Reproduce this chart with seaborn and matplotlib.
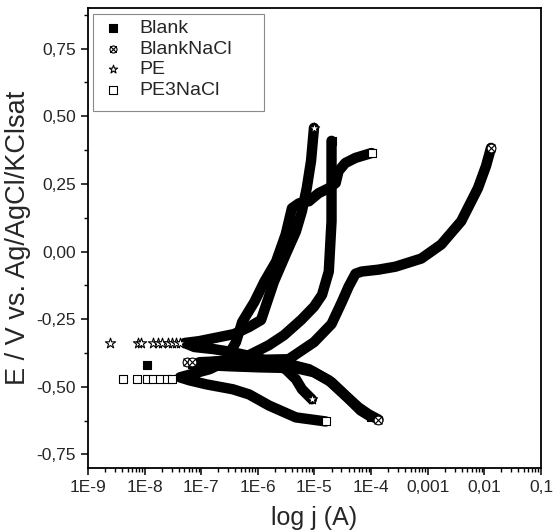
"""
Tafel polarisation curves (Blank / BlankNaCl / PE / PE3NaCl).
"""

import matplotlib

matplotlib.use("Agg")
import matplotlib.pyplot as plt
import seaborn as sns
from matplotlib.patches import Rectangle
from matplotlib.path import Path
from matplotlib.ticker import FixedFormatter, FixedLocator, LogLocator, MultipleLocator, NullFormatter

# --- data (j in A, E in V) ------------------------------------------------
# each branch path runs cathodic end -> corrosion potential -> anodic end
blank_j = [9.8e-5, 6.5e-5, 4.0e-5, 2.0e-5, 9.8e-6, 4.7e-6, 1.05e-6, 3.1e-7, 1.24e-7, 7.6e-8,
           3.1e-7, 7.0e-7, 1.57e-6, 2.9e-6, 5.8e-6, 9.8e-6, 1.36e-5, 1.79e-5, 2.0e-5, 2.0e-5, 2.0e-5]
blank_e = [-0.610, -0.587, -0.543, -0.483, -0.446, -0.431, -0.428, -0.424, -0.420, -0.416,
           -0.401, -0.383, -0.346, -0.309, -0.253, -0.204, -0.160, -0.074, 0.112, 0.260, 0.409]
blank_tip_j = [1.09e-8, 7.0e-8]
blank_tip_e = [-0.420, -0.416]

blanknacl_j = [1.35e-4, 9.1e-5, 6.0e-5, 3.5e-5, 1.79e-5, 8.0e-6, 3.5e-6, 7.0e-7, 1.7e-7, 9.3e-8,
               7.0e-7, 3.5e-6, 9.8e-6, 2.0e-5, 3.05e-5, 4.0e-5, 5.3e-5, 6.8e-5, 1.35e-4, 2.7e-4,
               7.7e-4, 1.73e-3, 3.9e-3, 7.7e-3, 1.07e-2, 1.31e-2]
blanknacl_e = [-0.621, -0.602, -0.576, -0.532, -0.476, -0.435, -0.416, -0.416, -0.413, -0.409,
               -0.401, -0.398, -0.335, -0.268, -0.186, -0.130, -0.082, -0.074, -0.067, -0.056,
               -0.026, 0.026, 0.112, 0.234, 0.316, 0.383]
blanknacl_tip_j = [5.5e-8, 7.0e-8]
blanknacl_tip_e = [-0.409, -0.409]

pe_j = [9.0e-6, 6.0e-6, 4.7e-6, 3.1e-6, 1.05e-6, 3.6e-7, 1.7e-7, 7.6e-8, 5.1e-8, 9.3e-8,
        2.1e-7, 3.8e-7, 7.0e-7, 1.14e-6, 1.46e-6, 1.92e-6, 3.1e-6, 4.7e-6, 6.0e-6, 7.3e-6,
        8.7e-6, 9.8e-6]
pe_e = [-0.546, -0.509, -0.472, -0.435, -0.394, -0.372, -0.361, -0.353, -0.338, -0.331,
        -0.316, -0.305, -0.279, -0.253, -0.186, -0.112, -0.011, 0.074, 0.149, 0.234,
        0.335, 0.457]
pe_tip_j = [2.4e-9, 7.6e-9, 8.8e-9, 1.39e-8, 1.7e-8, 2.07e-8, 2.55e-8, 3.1e-8, 3.6e-8, 4.3e-8]
pe_tip_e = [-0.338, -0.338, -0.338, -0.338, -0.338, -0.338, -0.338, -0.338, -0.338, -0.338]

pe3nacl_j = [1.58e-5, 9.0e-6, 4.7e-6, 1.57e-6, 7.0e-7, 3.6e-7, 1.24e-7, 6.2e-8, 4.2e-8, 7.6e-8,
             1.4e-7, 2.55e-7, 4.1e-7, 5.3e-7, 8.7e-7, 1.3e-6, 2.1e-6, 3.1e-6, 4.0e-6, 5.3e-6,
             8.0e-6, 1.19e-5, 1.79e-5, 2.37e-5, 2.66e-5, 3.5e-5, 5.3e-5, 1.02e-4]
pe3nacl_e = [-0.628, -0.621, -0.613, -0.569, -0.528, -0.509, -0.491, -0.476, -0.465, -0.450,
             -0.435, -0.409, -0.335, -0.260, -0.186, -0.112, -0.037, 0.063, 0.160, 0.178,
             0.186, 0.216, 0.234, 0.253, 0.297, 0.327, 0.346, 0.364]
pe3nacl_tip_j = [4.1e-9, 7.3e-9, 1.09e-8, 1.39e-8, 1.84e-8, 2.44e-8, 3.1e-8]
pe3nacl_tip_e = [-0.472, -0.472, -0.472, -0.472, -0.472, -0.472, -0.472]

x_ticks = [1e-9, 1e-8, 1e-7, 1e-6, 1e-5, 1e-4, 1e-3, 1e-2, 1e-1]
x_tick_labels = ["1E-9", "1E-8", "1E-7", "1E-6", "1E-5", "1E-4", "0,001", "0,01", "0,1"]
y_ticks = [-0.75, -0.50, -0.25, 0.00, 0.25, 0.50, 0.75]
y_tick_labels = ["-0,75", "-0,50", "-0,25", "0,00", "0,25", "0,50", "0,75"]


def crossed_circle() -> Path:
    return Path.make_compound_path(
        Path.unit_circle(),
        Path([(-0.9, -0.9), (0.9, 0.9)]),
        Path([(-0.9, 0.9), (0.9, -0.9)]),
    )


sns.set_style("ticks")
plt.rcParams["font.family"] = ["Liberation Sans", "DejaVu Sans"]

fig = plt.figure(figsize=(5.54, 5.32), dpi=100)
ax = fig.add_axes([0.1588, 0.1203, 0.8177, 0.8647])

curves = [
    ("Blank", blank_j, blank_e, blank_tip_j, blank_tip_e, "s", "black"),
    ("BlankNaCl", blanknacl_j, blanknacl_e, blanknacl_tip_j, blanknacl_tip_e, crossed_circle(), "white"),
    ("PE", pe_j, pe_e, pe_tip_j, pe_tip_e, "*", "white"),
    ("PE3NaCl", pe3nacl_j, pe3nacl_e, pe3nacl_tip_j, pe3nacl_tip_e, "s", "white"),
]

for name, pj, pe, tj, te, marker, face in curves:
    sns.lineplot(x=pj, y=pe, sort=False, estimator=None, color="black",
                 lw=7.5, ax=ax, legend=False, zorder=2,
                 solid_joinstyle="round", solid_capstyle="round")

for name, pj, pe, tj, te, marker, face in curves:
    mx = tj + [pj[0], pj[-1]]
    my = te + [pe[0], pe[-1]]
    size = 60 if marker == "*" else 40
    sns.scatterplot(x=mx, y=my, marker=marker, s=size, color=face,
                    edgecolor="black", linewidth=0.8, ax=ax, label=name, zorder=3)

ax.set_xscale("log")
ax.set_xlim(1e-9, 1e-1)
ax.set_ylim(-0.80, 0.90)

ax.xaxis.set_major_locator(FixedLocator(x_ticks))
ax.xaxis.set_major_formatter(FixedFormatter(x_tick_labels))
ax.xaxis.set_minor_locator(LogLocator(base=10, subs=range(2, 10), numticks=20))
ax.xaxis.set_minor_formatter(NullFormatter())
ax.yaxis.set_major_locator(FixedLocator(y_ticks))
ax.yaxis.set_major_formatter(FixedFormatter(y_tick_labels))
ax.yaxis.set_minor_locator(MultipleLocator(0.125))

ax.tick_params(which="major", direction="out", length=5, width=1.1, labelsize=12.5, color="black")
ax.tick_params(which="minor", direction="out", length=3, width=1.0, color="black")
for spine in ax.spines.values():
    spine.set_visible(True)
    spine.set_linewidth(1.3)
    spine.set_color("black")

ax.set_xlabel("log j (A)", fontsize=18, labelpad=8)
ax.set_ylabel("E / V vs. Ag/AgCl/KClsat", fontsize=19.5, labelpad=4)

# legend box is wider than its content, as in the reference
ax.add_patch(Rectangle((0.011, 0.776), 0.378, 0.211, transform=ax.transAxes,
                       facecolor="white", edgecolor="#8a8a8a", lw=0.8, zorder=4))
leg = ax.legend(loc="upper left", bbox_to_anchor=(0.011, 0.987), borderaxespad=0,
                frameon=False, fontsize=14, handlelength=1.5, handletextpad=0.6,
                labelspacing=0.15, borderpad=0.3, markerscale=0.8)
leg.set_zorder(5)

fig.savefig("out.png", dpi=100)
plt.close(fig)
